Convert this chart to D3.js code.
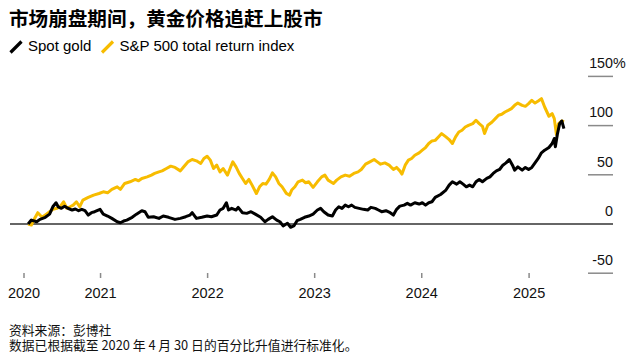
<!DOCTYPE html>
<html><head><meta charset="utf-8">
<script src="https://cdn.jsdelivr.net/npm/d3@7"></script>
<style>
html,body{margin:0;padding:0;background:#fff;}
svg{display:block;font-family:"Liberation Sans",Arial,sans-serif;}
</style></head><body>
<svg id="c" width="632" height="357"></svg>
<script>
// Decimal-year dates and % change since 2020-04-30
const goldT = [2020.33,2020.36,2020.41,2020.44,2020.49,2020.53,2020.56,2020.59,2020.61,2020.64,2020.67,2020.70,2020.74,2020.77,2020.80,2020.83,2020.86,2020.89,2020.92,2020.95,
2021.00,2021.03,2021.07,2021.11,2021.16,2021.19,2021.22,2021.25,2021.30,2021.34,2021.39,2021.42,2021.45,2021.50,2021.55,2021.59,2021.64,2021.70,2021.75,2021.80,2021.84,2021.86,2021.90,2021.95,
2022.00,2022.04,2022.09,2022.12,2022.15,2022.18,2022.20,2022.23,2022.27,2022.29,2022.33,2022.37,2022.41,2022.45,2022.50,2022.54,2022.57,2022.61,2022.65,2022.68,2022.71,2022.75,2022.78,2022.81,2022.84,2022.87,2022.91,2022.95,2022.99,
2023.03,2023.06,2023.09,2023.13,2023.17,2023.20,2023.23,2023.26,2023.29,2023.32,2023.35,2023.38,2023.42,2023.46,2023.50,2023.53,2023.57,2023.60,2023.63,2023.67,2023.71,2023.74,2023.77,2023.80,2023.84,2023.87,2023.90,2023.94,2023.98,
2024.01,2024.04,2024.07,2024.10,2024.13,2024.18,2024.23,2024.26,2024.29,2024.33,2024.36,2024.39,2024.42,2024.45,2024.48,2024.51,2024.54,2024.57,2024.61,2024.64,2024.67,2024.70,2024.73,2024.76,2024.79,2024.82,2024.85,2024.87,2024.90,2024.94,2024.97,
2025.00,2025.03,2025.06,2025.09,2025.12,2025.15,2025.19,2025.22,2025.24,2025.25,2025.27,2025.29,2025.31,2025.33];
const goldV = [0,4,2.3,4.7,6.8,10,17.5,21.6,17.5,15.9,18,16,14.2,15.2,13.5,14.9,13.5,9.1,11.5,12.5,
14.9,10,8.1,5.7,2.3,1.3,3,4,6.8,10,13.5,12.5,6.8,7.4,5.7,8.1,6.8,4.7,5.7,7.4,9.1,11.5,5.7,6.8,
8.1,7.4,9.1,14.2,15.9,21.6,14.2,15.9,14.2,16.9,11.5,10.8,12.5,10,6.8,2.3,4.7,7.4,4,2.3,-2,0.7,-3.3,-2,3.4,4.7,6.8,8.1,10.1,
14.2,15.9,12.5,9.1,8.1,14.2,17.5,15.9,19.2,17.5,19.2,16.9,15.9,14.9,14.2,16.9,15.9,14.2,12.5,13.5,11.5,9.1,14.9,18.2,19.2,21,19.2,21.6,20.3,
21.6,19.2,21.6,22.6,27,30,34.5,39.5,42.9,40.5,42.9,40.5,37.8,39.5,37.8,42.9,45.3,42.9,46.3,47.9,51.4,54,55.4,59.8,62.1,65.5,59.8,54.7,58,54.7,57.5,
55.4,57.5,62.1,66.6,72.3,75,77.7,81.8,86.9,78.4,91.9,102,104.7,97];

const spxT = [2020.33,2020.36,2020.39,2020.42,2020.46,2020.50,2020.53,2020.56,2020.60,2020.63,2020.66,2020.69,2020.72,2020.75,2020.78,2020.81,2020.84,2020.89,2020.94,2020.99,
2021.03,2021.07,2021.11,2021.16,2021.19,2021.23,2021.28,2021.33,2021.36,2021.39,2021.44,2021.48,2021.51,2021.55,2021.58,2021.62,2021.66,2021.70,2021.75,2021.78,2021.82,2021.86,2021.90,2021.94,2021.97,
2022.00,2022.03,2022.06,2022.09,2022.12,2022.15,2022.19,2022.22,2022.24,2022.27,2022.30,2022.33,2022.36,2022.39,2022.42,2022.46,2022.49,2022.52,2022.55,2022.58,2022.61,2022.64,2022.67,2022.70,2022.74,2022.77,2022.79,2022.82,2022.85,2022.89,2022.92,2022.95,2022.99,
2023.03,2023.07,2023.10,2023.13,2023.18,2023.21,2023.25,2023.29,2023.33,2023.37,2023.41,2023.44,2023.48,2023.52,2023.56,2023.59,2023.62,2023.66,2023.70,2023.74,2023.77,2023.80,2023.82,2023.85,2023.88,2023.91,2023.94,2023.98,
2024.01,2024.04,2024.07,2024.10,2024.13,2024.16,2024.19,2024.23,2024.26,2024.29,2024.32,2024.35,2024.38,2024.41,2024.44,2024.48,2024.51,2024.54,2024.57,2024.59,2024.62,2024.66,2024.69,2024.72,2024.75,2024.78,2024.81,2024.84,2024.87,2024.90,2024.94,2024.97,
2025.00,2025.03,2025.06,2025.09,2025.12,2025.15,2025.19,2025.22,2025.24,2025.26,2025.28,2025.31,2025.33];
const spxV = [0,-1,5.7,11.5,6.8,10,12.5,15,16,18,22.6,16,17.5,19.2,22.6,17.5,24.3,27,29.4,31,
32.7,31.7,35.2,37.8,35.2,41.2,42.9,45.3,43.9,46.3,47.9,49.7,51.4,53,54,56.4,58.8,57.5,54,58,63.1,65.5,64.2,61.5,66.6,
68.9,64.9,56.4,59.8,53,56.4,49.7,58,63.1,58,51.4,46.3,41.2,45.3,39.5,31,37.8,41.2,40.5,45.3,52,47.9,41.2,37.8,31.1,29.4,34.5,37.8,42.9,44.6,41.9,42.9,37.2,
42.9,47.9,49.7,44.6,41.2,44.6,47.9,49.7,48.6,51.4,53,55.4,60.8,63.1,65.5,63.1,60.8,62.1,59.8,55.4,57.5,54,50.7,59.8,64.9,66.6,69.9,72.3,
75,77.7,81.8,84.4,85,88.5,91.9,88.5,85.8,81.8,88.5,93.5,95.3,98.6,100.3,102,105.4,102,99.3,91.9,100.3,103.7,107.1,110.5,111.5,113.8,115.5,117.3,120.6,122.9,120.6,119.6,
122.3,125.7,122.9,125,127.4,118.9,109.5,112.2,107.1,91,102,104.7,103.7];

const yTicks = [-50, 0, 50, 100, 150];
const xTickLabels = ["2020","2021","2022","2023","2024","2025"];
const seriesNames = ["Spot gold", "S&P 500 total return index"];
const title = "市场崩盘期间，黄金价格追赶上股市";
const sourceLines = ["资料来源：彭博社", "数据已根据截至 2020 年 4 月 30 日的百分比升值进行标准化。"];

function dy(t){ const y = Math.floor(t); const s = new Date(y,0,1), e = new Date(y+1,0,1); return new Date(+s + (t - y) * (e - s)); }

const svg = d3.select("#c");
const x = d3.scaleTime().domain([new Date(2020,3,15), new Date(2025,3,30)]).range([23.5, 563.5]);
const y = d3.scaleLinear().domain([-50, 150]).range([273.2, 76.4]);
const xTickDates = [new Date(2020,3,15), new Date(2021,0,1), new Date(2022,0,1), new Date(2023,0,1), new Date(2024,0,1), new Date(2025,0,1)];

const CJK = '"Noto Sans CJK SC","Liberation Sans",sans-serif';
svg.append("text").attr("x", 9).attr("y", 26).attr("font-family", CJK).attr("font-weight", 700).attr("font-size", 19.6).attr("fill", "#000").text(title);

// legend
const colors = ["#000000", "#F7BC00"];
const legX = [10.5, 102];
const legTextX = [28, 119.5];
seriesNames.forEach((n, i) => {
  svg.append("line").attr("x1", legX[i]).attr("y1", 52.5).attr("x2", legX[i] + 11).attr("y2", 41.5)
    .attr("stroke", colors[i]).attr("stroke-width", 3.2);
  svg.append("text").attr("x", legTextX[i]).attr("y", 50.7).attr("font-size", 15).attr("fill", "#000").text(n);
});

// y axis (right)
const yg = svg.append("g");
yTicks.forEach(v => {
  if (v !== 0) {
    yg.append("line").attr("x1", 588).attr("x2", 613).attr("y1", y(v)).attr("y2", y(v)).attr("stroke", "#8a8a8a").attr("stroke-width", 1.5);
  }
  yg.append("text").attr("x", 613).attr("y", y(v) - 8.3).attr("text-anchor", "end").attr("font-size", 14.3).attr("fill", "#111").text(v);
  if (v === yTicks[yTicks.length - 1]) {
    yg.append("text").attr("x", 613).attr("y", y(v) - 8.3).attr("font-size", 14.3).attr("fill", "#111").text("%");
  }
});
svg.append("line").attr("x1", 10).attr("x2", 613).attr("y1", y(0)).attr("y2", y(0)).attr("stroke", "#333").attr("stroke-width", 1.4);

// x axis
const xAxis = d3.axisBottom(x).tickValues(xTickDates).tickSize(5).tickPadding(10).tickFormat((d, i) => xTickLabels[i]);
const xg = svg.append("g").attr("transform", "translate(0,273)").call(xAxis);
xg.select(".domain").remove();
xg.selectAll(".tick line").attr("stroke", "#8a8a8a").attr("stroke-width", 1.5);
xg.selectAll(".tick text").attr("font-size", 14.5).attr("fill", "#111").attr("font-family", '"Liberation Sans",Arial,sans-serif');

// lines
const line = d3.line().x(d => x(d[0])).y(d => y(d[1]));
const spx = spxT.map((t, i) => [dy(t), spxV[i]]);
const gold = goldT.map((t, i) => [dy(t), goldV[i]]);
svg.append("path").datum(spx).attr("d", line).attr("fill", "none").attr("stroke", colors[1]).attr("stroke-width", 3).attr("stroke-linejoin", "round");
svg.append("path").datum(gold).attr("d", line).attr("fill", "none").attr("stroke", colors[0]).attr("stroke-width", 3).attr("stroke-linejoin", "round");

// source
sourceLines.forEach((s, i) => {
  svg.append("text").attr("x", 9).attr("y", 334.5 + i * 15).attr("font-family", CJK).attr("font-size", 12.8).attr("fill", "#111").text(s);
});
</script>
</body></html>
